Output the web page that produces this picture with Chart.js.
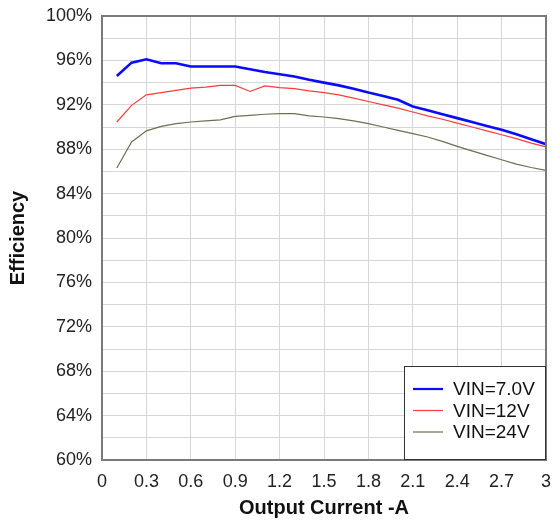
<!DOCTYPE html>
<html>
<head>
<meta charset="utf-8">
<script src="https://cdn.jsdelivr.net/npm/chart.js@4.4.0/dist/chart.umd.min.js"></script>
<style>
  html, body { margin: 0; padding: 0; background: #ffffff; }
  #wrap { width: 552px; height: 521px; position: relative; }
</style>
</head>
<body>
<div id="wrap"><canvas id="eff"></canvas></div>
<script>
// Output current in amps
const currents = [0.1, 0.2, 0.3, 0.4, 0.5, 0.6, 0.7, 0.8, 0.9, 1.0,
                  1.1, 1.2, 1.3, 1.4, 1.5, 1.6, 1.7, 1.8, 1.9, 2.0,
                  2.1, 2.2, 2.3, 2.4, 2.5, 2.6, 2.7, 2.8, 2.9, 3.0];

// Efficiency (%) at each input voltage
const effVin7 = [94.6, 95.8, 96.1, 95.75, 95.75, 95.45, 95.45, 95.45, 95.45, 95.2,
                 94.95, 94.75, 94.55, 94.25, 94.0, 93.75, 93.45, 93.1, 92.8, 92.45,
                 91.85, 91.5, 91.15, 90.8, 90.45, 90.1, 89.75, 89.35, 88.9, 88.45];
const effVin12 = [90.45, 91.95, 92.9, 93.1, 93.3, 93.5, 93.6, 93.75, 93.75, 93.2,
                  93.7, 93.55, 93.45, 93.25, 93.1, 92.9, 92.6, 92.3, 92.0, 91.7,
                  91.35, 91.0, 90.7, 90.35, 90.0, 89.65, 89.3, 88.95, 88.55, 88.2];
const effVin24 = [86.3, 88.65, 89.65, 90.05, 90.3, 90.45, 90.55, 90.65, 90.95, 91.05,
                  91.15, 91.2, 91.2, 91.0, 90.9, 90.75, 90.55, 90.3, 90.0, 89.7,
                  89.4, 89.1, 88.7, 88.25, 87.85, 87.45, 87.05, 86.65, 86.35, 86.1];

const seriesLabels = ['VIN=7.0V', 'VIN=12V', 'VIN=24V'];
const seriesColors = ['#0a0aff', '#ff3b3b', '#6f6f52'];
const seriesWidths = [2.6, 1.2, 1.2];

const FONT = "'Liberation Sans', Arial, sans-serif";

function toPoints(ys) {
  return currents.map((x, i) => ({ x: x, y: ys[i] }));
}

// Frame drawn around the plotting area
const framePlugin = {
  id: 'frame',
  afterDatasetsDraw(chart) {
    const { ctx, chartArea: a } = chart;
    ctx.save();
    ctx.strokeStyle = '#7a7a7a';
    ctx.lineWidth = 2;
    ctx.strokeRect(a.left, a.top, a.right - a.left, a.bottom - a.top);
    ctx.restore();
  }
};

// Boxed legend in the lower-right corner of the plot
const boxLegendPlugin = {
  id: 'boxLegend',
  afterDraw(chart) {
    const { ctx, chartArea: a } = chart;
    const w = 142, h = 94;
    const x0 = a.right - w, y0 = a.bottom - h;
    ctx.save();
    ctx.fillStyle = '#ffffff';
    ctx.fillRect(x0, y0, w, h);
    ctx.strokeStyle = '#333333';
    ctx.lineWidth = 1;
    ctx.strokeRect(x0 + 0.5, y0 + 0.5, w - 1, h - 1);
    ctx.font = '19px ' + FONT;
    ctx.textBaseline = 'middle';
    ctx.textAlign = 'left';
    chart.data.datasets.forEach((ds, i) => {
      const y = y0 + 23 + i * 21.5;
      ctx.strokeStyle = ds.borderColor;
      ctx.lineWidth = i === 0 ? 2.2 : 1.2;
      ctx.beginPath();
      ctx.moveTo(x0 + 9, y);
      ctx.lineTo(x0 + 39, y);
      ctx.stroke();
      ctx.fillStyle = '#111111';
      ctx.fillText(ds.label, x0 + 49, y + 1);
    });
    ctx.restore();
  }
};

new Chart(document.getElementById('eff'), {
  type: 'line',
  data: {
    datasets: [effVin7, effVin12, effVin24].map((ys, i) => ({
      label: seriesLabels[i],
      data: toPoints(ys),
      borderColor: seriesColors[i],
      borderWidth: seriesWidths[i],
      pointRadius: 0,
      tension: 0,
      fill: false
    }))
  },
  options: {
    responsive: true,
    maintainAspectRatio: false,
    animation: false,
    layout: { padding: { top: 16, right: 6, bottom: 0, left: 0 } },
    plugins: {
      legend: { display: false },
      tooltip: { enabled: false }
    },
    scales: {
      x: {
        type: 'linear',
        min: 0,
        max: 3,
        afterFit(scale) {
          scale.height = 61;
          scale.paddingLeft = 0;
          scale.paddingRight = 0;
        },
        afterBuildTicks(scale) {
          const t = [];
          for (let k = 0; k <= 10; k++) t.push({ value: Math.round(k * 3) / 10 });
          scale.ticks = t;
        },
        ticks: {
          padding: 11,
          color: '#222222',
          font: { family: FONT, size: 18 },
          maxRotation: 0,
          autoSkip: false,
          callback: (v) => String(Math.round(v * 10) / 10)
        },
        grid: { color: '#d6d6d6', lineWidth: 1, drawTicks: false },
        border: { display: false },
        title: {
          display: true,
          text: 'Output Current -A',
          color: '#111111',
          font: { family: FONT, size: 20, weight: 'bold' },
          padding: { top: 0, bottom: 1 }
        }
      },
      y: {
        min: 60,
        max: 100,
        afterFit(scale) {
          scale.width = 102;
          scale.paddingTop = 0;
          scale.paddingBottom = 0;
        },
        ticks: {
          stepSize: 2,
          padding: 10,
          color: '#222222',
          font: { family: FONT, size: 18 },
          autoSkip: false,
          callback: (v) => (Math.round(v) % 4 === 0 ? Math.round(v) + '%' : '')
        },
        grid: { color: '#d6d6d6', lineWidth: 1, drawTicks: false },
        border: { display: false },
        title: {
          display: true,
          text: 'Efficiency',
          color: '#111111',
          font: { family: FONT, size: 20, weight: 'bold' },
          padding: { top: 6, bottom: 0 }
        }
      }
    }
  },
  plugins: [framePlugin, boxLegendPlugin]
});
</script>
</body>
</html>
